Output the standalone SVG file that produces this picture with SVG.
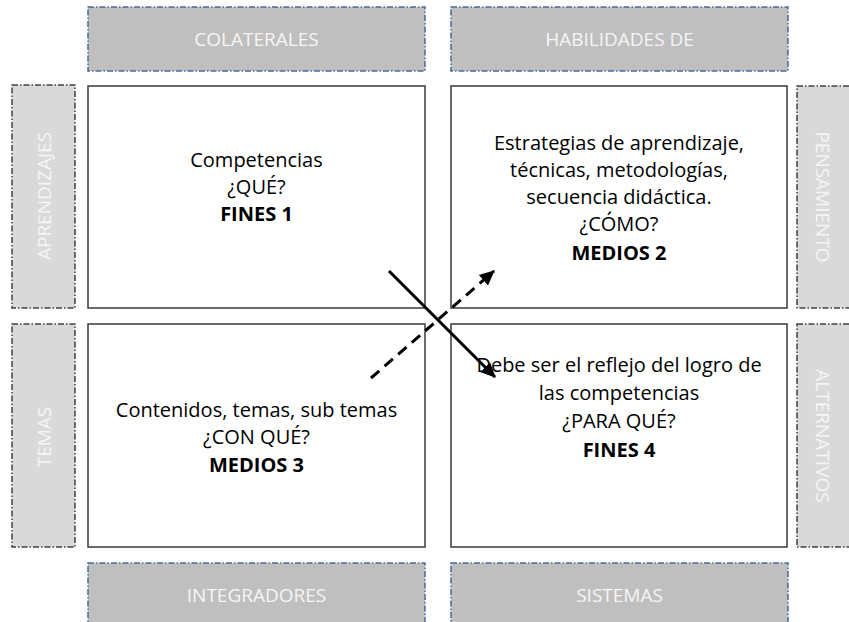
<svg xmlns="http://www.w3.org/2000/svg" width="849" height="622" viewBox="0 0 849 622">
<style>
.hl{fill:#bfbfbf;stroke:#4a6a9c;stroke-width:1.5;stroke-dasharray:6 2 1.5 2}
.sl{fill:#d9d9d9;stroke:#404040;stroke-width:1.5;stroke-dasharray:6 2 1.5 2}
.lt{font-family:"Open Sans",Lato,sans-serif;font-size:19px;fill:#f5f5f5;text-anchor:middle;dominant-baseline:central}
.box{fill:#ffffff;stroke:#3a3a3a;stroke-width:1.5}
.t{font-family:"Open Sans",Lato,sans-serif;font-size:20px;fill:#000;text-anchor:middle}
.b{font-weight:bold}
.arr{fill:none;stroke:#000;stroke-width:3}
</style>
<defs>
<marker id="ah" markerUnits="userSpaceOnUse" markerWidth="16" markerHeight="16" refX="14" refY="7" orient="auto" viewBox="0 0 16 14">
<path d="M0,0 L15,7 L0,14 z" fill="#000"/>
</marker>
</defs>
<g id="lbl-colaterales"><rect class="hl" x="88" y="7" width="337" height="64"/><text class="lt" x="256.5" y="39">COLATERALES</text></g>
<g id="lbl-habilidades"><rect class="hl" x="451" y="7" width="337" height="64"/><text class="lt" x="619.5" y="39">HABILIDADES DE</text></g>
<g id="lbl-integradores"><rect class="hl" x="88" y="563" width="337" height="70"/><text class="lt" x="256.5" y="595">INTEGRADORES</text></g>
<g id="lbl-sistemas"><rect class="hl" x="451" y="563" width="337" height="70"/><text class="lt" x="619.5" y="595">SISTEMAS</text></g>
<g id="lbl-aprendizajes"><rect class="sl" x="12" y="85" width="63" height="223"/><text class="lt" transform="translate(44,196) rotate(-90)" x="0" y="0">APRENDIZAJES</text></g>
<g id="lbl-temas"><rect class="sl" x="12" y="324" width="63" height="223"/><text class="lt" transform="translate(44,437) rotate(-90)" x="0" y="0">TEMAS</text></g>
<g id="lbl-pensamiento"><rect class="sl" x="797" y="86" width="60" height="222"/><text class="lt" transform="translate(823,197) rotate(90)" x="0" y="0">PENSAMIENTO</text></g>
<g id="lbl-alternativos"><rect class="sl" x="797" y="324" width="60" height="223"/><text class="lt" transform="translate(823,436) rotate(90)" x="0" y="0">ALTERNATIVOS</text></g>
<g id="box-fines1"><rect class="box" x="88" y="86" width="337" height="222"/>
<text class="t" x="256.5" y="167">Competencias</text><text class="t" x="256.5" y="194">¿QUÉ?</text><text class="t b" x="256.5" y="221">FINES 1</text></g>
<g id="box-medios2"><rect class="box" x="451" y="86" width="336" height="222"/>
<text class="t" x="619" y="150">Estrategias de aprendizaje,</text><text class="t" x="619" y="177">técnicas, metodologías,</text><text class="t" x="619" y="204">secuencia didáctica.</text><text class="t" x="619" y="231">¿CÓMO?</text><text class="t b" x="619" y="260">MEDIOS 2</text></g>
<g id="box-medios3"><rect class="box" x="88" y="324" width="337" height="223"/>
<text class="t" x="256.5" y="417">Contenidos, temas, sub temas</text><text class="t" x="256.5" y="444">¿CON QUÉ?</text><text class="t b" x="256.5" y="472">MEDIOS 3</text></g>
<g id="box-fines4"><rect class="box" x="451" y="324" width="336" height="223"/>
<text class="t" x="619" y="372">Debe ser el reflejo del logro de</text><text class="t" x="619" y="400">las competencias</text><text class="t" x="619" y="428">¿PARA QUÉ?</text><text class="t b" x="619" y="457">FINES 4</text></g>
<g id="connectors">
<line class="arr" x1="389" y1="271" x2="495" y2="377" marker-end="url(#ah)"/>
<line class="arr" x1="371" y1="378" x2="494" y2="271" stroke-dasharray="11 7" marker-end="url(#ah)"/>
</g>
</svg>
